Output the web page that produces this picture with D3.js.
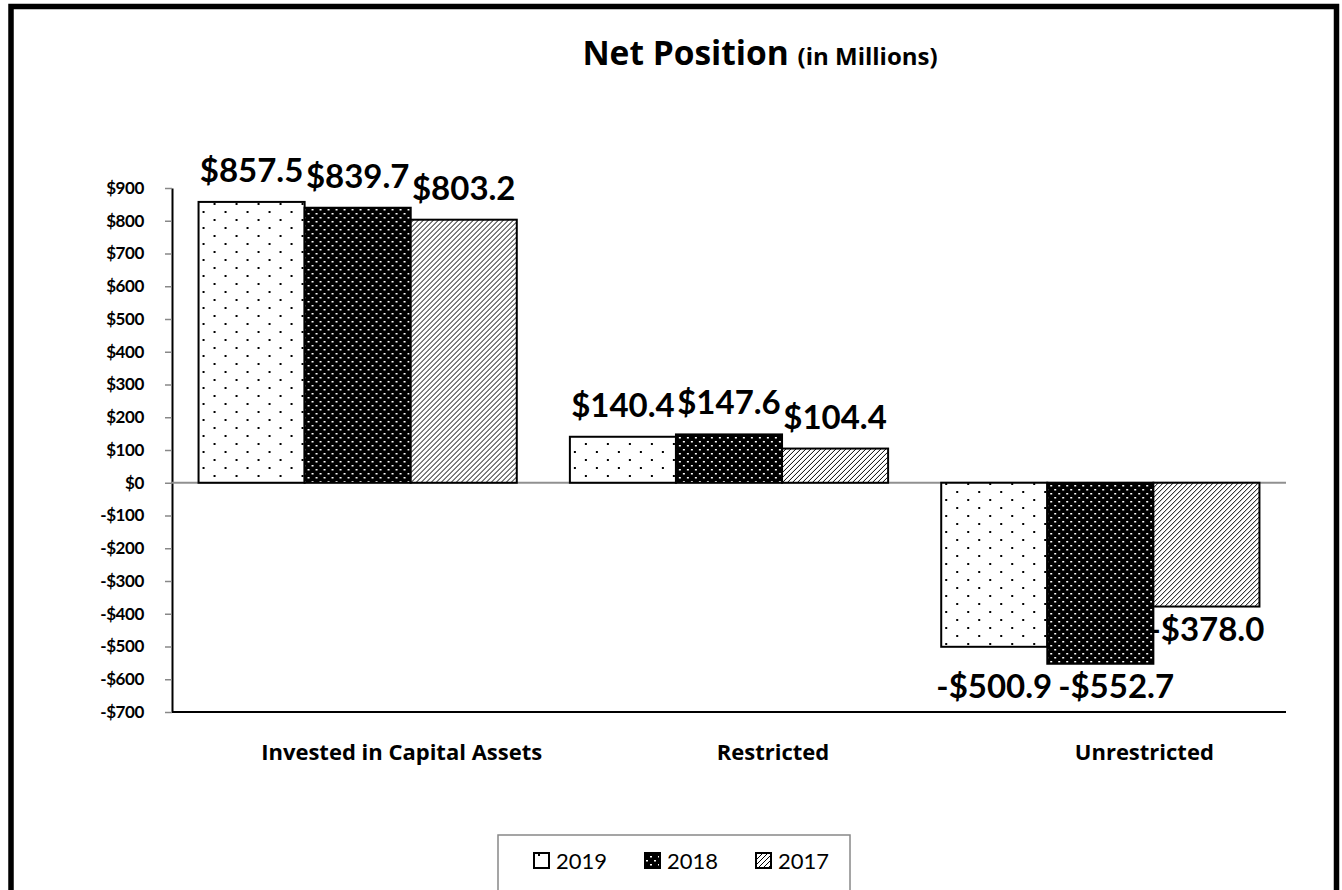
<!DOCTYPE html>
<html>
<head>
<meta charset="utf-8">
<script src="https://cdn.jsdelivr.net/npm/d3@7"></script>
<style>
  body { margin: 0; background: #fff; }
  text { font-family: Lato, "Open Sans", sans-serif; }
</style>
</head>
<body>
<div id="viz"></div>
<script>
// data
const categories = ["Invested in Capital Assets", "Restricted", "Unrestricted"];
const years = ["2019", "2018", "2017"];
const values2019 = [857.5, 140.4, -500.9];
const values2018 = [839.7, 147.6, -552.7];
const values2017 = [803.2, 104.4, -378.0];
const yTicks = [900, 800, 700, 600, 500, 400, 300, 200, 100, 0, -100, -200, -300, -400, -500, -600, -700];

const seriesValues = { "2019": values2019, "2018": values2018, "2017": values2017 };

const rows = categories.map((c, i) => ({
  category: c,
  bars: years.map(yr => ({ year: yr, value: seriesValues[yr][i] }))
}));

// dimensions
const dms = { width: 1342, height: 890, left: 172, right: 1286, top: 188, bottom: 712 };

const svg = d3.select("#viz").append("svg")
  .attr("width", dms.width)
  .attr("height", dms.height);

// patterns
const defs = svg.append("defs");

const p19 = defs.append("pattern").attr("id", "pat2019")
  .attr("patternUnits", "userSpaceOnUse").attr("width", 22).attr("height", 16);
p19.append("rect").attr("width", 22).attr("height", 16).attr("fill", "#fff");
p19.append("rect").attr("x", 4).attr("y", 3).attr("width", 2).attr("height", 2).attr("fill", "#000");
p19.append("rect").attr("x", 15).attr("y", 11).attr("width", 2).attr("height", 2).attr("fill", "#000");

const p18 = defs.append("pattern").attr("id", "pat2018")
  .attr("patternUnits", "userSpaceOnUse").attr("width", 8).attr("height", 8);
p18.append("rect").attr("width", 8).attr("height", 8).attr("fill", "#000");
p18.append("rect").attr("x", 1).attr("y", 1).attr("width", 2).attr("height", 1.5).attr("fill", "#fff");
p18.append("rect").attr("x", 5).attr("y", 5).attr("width", 2).attr("height", 1.5).attr("fill", "#fff");

const p17 = defs.append("pattern").attr("id", "pat2017")
  .attr("patternUnits", "userSpaceOnUse").attr("width", 5).attr("height", 5);
p17.append("rect").attr("width", 5).attr("height", 5).attr("fill", "#fff");
p17.append("path").attr("d", "M-1,6 L6,-1 M-1,1 L1,-1 M4,6 L6,4")
  .attr("stroke", "#000").attr("stroke-width", 1);

const fillFor = yr => `url(#pat${yr})`;

// frame
svg.append("path")
  .attr("d", `M11,${dms.height} V6.5 H1336.5 V${dms.height}`)
  .attr("fill", "none").attr("stroke", "#000").attr("stroke-width", 5.5);

// title
const title = svg.append("text")
  .attr("x", 760).attr("y", 65)
  .attr("text-anchor", "middle")
  .style("font-family", "'Open Sans', sans-serif")
  .style("font-weight", "bold");
title.append("tspan").style("font-size", "33.5px").text("Net Position ");
title.append("tspan").style("font-size", "24px").text("(in Millions)");

// scales
const y = d3.scaleLinear().domain([-700, 900]).range([dms.bottom, dms.top]);

const x0 = d3.scaleBand()
  .domain(categories)
  .range([dms.left, dms.right])
  .paddingInner(0.143)
  .paddingOuter(0.0715);

const x1 = d3.scaleBand()
  .domain(years)
  .range([0, x0.bandwidth()]);

// axes
const fmt = v => (v < 0 ? "-$" : "$") + Math.abs(v);

const yAxis = svg.append("g")
  .attr("transform", `translate(${dms.left},0)`)
  .call(d3.axisLeft(y).tickValues(yTicks).tickFormat(fmt).tickSize(7).tickSizeOuter(0));
yAxis.select(".domain").attr("stroke", "#000").attr("stroke-width", 2);
yAxis.selectAll(".tick line").attr("stroke", "#888").attr("stroke-width", 1.5);
yAxis.selectAll(".tick text")
  .attr("x", -28)
  .style("font-family", "Lato, sans-serif")
  .style("font-size", "17px")
  .style("font-weight", "bold")
  .style("letter-spacing", "-0.4px")
  .attr("fill", "#000");

// bottom axis line
svg.append("line")
  .attr("x1", dms.left).attr("x2", dms.right)
  .attr("y1", y(-700)).attr("y2", y(-700))
  .attr("stroke", "#000").attr("stroke-width", 2);

// category labels
svg.selectAll("text.cat")
  .data(categories)
  .join("text")
  .attr("class", "cat")
  .attr("x", d => x0(d) + x0.bandwidth() / 2 + 44)
  .attr("y", 760)
  .attr("text-anchor", "middle")
  .style("font-family", "'Open Sans', sans-serif")
  .style("font-size", "22px")
  .style("font-weight", "bold")
  .text(d => d);

// zero line
svg.append("line")
  .attr("x1", dms.left).attr("x2", dms.right)
  .attr("y1", y(0)).attr("y2", y(0))
  .attr("stroke", "#909090").attr("stroke-width", 2);

// bars
const groups = svg.selectAll("g.grp")
  .data(rows)
  .join("g")
  .attr("class", "grp")
  .attr("transform", d => `translate(${x0(d.category)},0)`);

groups.selectAll("rect")
  .data(d => d.bars)
  .join("rect")
  .attr("x", d => x1(d.year))
  .attr("width", x1.bandwidth())
  .attr("y", d => y(Math.max(0, d.value)))
  .attr("height", d => Math.abs(y(d.value) - y(0)))
  .attr("fill", d => fillFor(d.year))
  .attr("stroke", "#000")
  .attr("stroke-width", 2);

// value labels
const labelFmt = v => (v < 0 ? "-$" : "$") + Math.abs(v).toFixed(1);

// label baselines, negative neighbours that nearly collide get lined up
rows.forEach(r => {
  r.bars.forEach(b => { b.ly = b.value >= 0 ? y(b.value) - 20 : y(b.value) + 34; b.dx = 0; });
  for (let i = 1; i < r.bars.length; i++) {
    const a = r.bars[i - 1], b = r.bars[i];
    if (a.value < 0 && b.value < 0 && Math.abs(a.ly - b.ly) < 22) {
      a.ly = b.ly = Math.max(a.ly, b.ly);
      b.lined = true;
    }
  }
});

const valTexts = groups.selectAll("text.val")
  .data(d => d.bars)
  .join("text")
  .attr("class", "val")
  .attr("x", d => x1(d.year) + x1.bandwidth() / 2)
  .attr("y", d => d.ly)
  .attr("text-anchor", "middle")
  .style("font-size", "33px")
  .style("font-weight", "bold")
  .text(d => labelFmt(d.value));

// push lined-up labels apart sideways
valTexts.each(function(d) { d.w = this.getComputedTextLength(); });
rows.forEach(r => {
  for (let i = 1; i < r.bars.length; i++) {
    const a = r.bars[i - 1], b = r.bars[i];
    if (!b.lined) continue;
    const aRight = x1(a.year) + x1.bandwidth() / 2 + a.dx + a.w / 2;
    const bLeft = x1(b.year) + x1.bandwidth() / 2 - b.w / 2;
    if (bLeft < aRight + 6) b.dx = aRight + 6 - bLeft;
  }
});
valTexts.attr("dx", d => d.dx);

// legend
const legend = svg.append("g").attr("transform", "translate(498,835)");
legend.append("rect")
  .attr("width", 352).attr("height", 70)
  .attr("fill", "#fff").attr("stroke", "#888").attr("stroke-width", 1.5);

const legendX = d3.scalePoint().domain(years).range([36, 258]);

const items = legend.selectAll("g.item")
  .data(years)
  .join("g")
  .attr("class", "item")
  .attr("transform", d => `translate(${legendX(d)},0)`);

items.append("rect")
  .attr("y", 18).attr("width", 15).attr("height", 15)
  .attr("fill", d => fillFor(d))
  .attr("stroke", "#000").attr("stroke-width", 2);

items.append("text")
  .attr("x", 22).attr("y", 34)
  .style("font-size", "22px")
  .text(d => d);
</script>
</body>
</html>
